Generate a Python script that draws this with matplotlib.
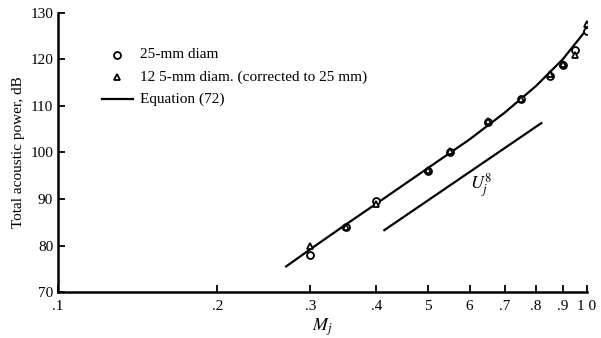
import matplotlib.pyplot as plt

# jet noise data
mach_pts = [0.30, 0.35, 0.40, 0.50, 0.55, 0.65, 0.75, 0.85, 0.90, 0.95, 1.00]
power_25mm = [78.0, 84.0, 89.5, 96.0, 100.0, 106.5, 111.5, 116.5, 118.8, 122.0, 126.0]
power_125mm = [80.0, 84.0, 89.0, 96.3, 100.3, 106.8, 111.5, 116.8, 119.0, 121.0, 127.5]

# equation (72) curve
mach_eq = [0.27, 0.30, 0.35, 0.40, 0.50, 0.60, 0.70, 0.80, 0.90, 1.00]
power_eq = [75.5, 79.2, 84.5, 89.0, 96.6, 102.8, 108.6, 114.2, 120.0, 126.5]

# U_j^8 reference line
mach_u8 = [0.414, 0.82]
power_u8 = [83.3, 106.3]

xticks = [0.1, 0.2, 0.3, 0.4, 0.5, 0.6, 0.7, 0.8, 0.9, 1.0]
xtick_labels = [".1", ".2", ".3", ".4", "5", "6", ".7", ".8", ".9", "1 0"]

plt.rcParams["font.family"] = "Liberation Serif"
plt.rcParams["mathtext.fontset"] = "stix"

fig = plt.figure(figsize=(6.01, 3.38), dpi=100)
ax = fig.add_axes([0.0965, 0.136, 0.88, 0.826])

ax.plot(mach_eq, power_eq, color="black", lw=1.6)
ax.plot(mach_u8, power_u8, color="black", lw=1.6)
ax.plot(mach_pts, power_25mm, "o", ms=5, mfc="white", mec="black", mew=1.3)
ax.plot(mach_pts, power_125mm, "^", ms=5, mfc="white", mec="black", mew=1.3)

ax.set_xscale("log")
ax.set_xlim(0.1, 1.0)
ax.set_ylim(70, 130)
ax.set_xticks(xticks)
ax.set_xticklabels(xtick_labels)
ax.xaxis.set_minor_locator(plt.NullLocator())
ax.set_yticks(range(70, 131, 10))

for s in ["top", "right"]:
    ax.spines[s].set_visible(False)
for s in ["left", "bottom"]:
    ax.spines[s].set_linewidth(1.8)
ax.tick_params(direction="in", length=5, width=1.3, labelsize=11)
ax.tick_params(axis="x", pad=6)

ax.text(0.6, 92, r"$U_j^8$", fontsize=13)
ax.set_xlabel(r"$M_j$", fontsize=13, labelpad=2)
ax.set_ylabel("Total acoustic power, dB", fontsize=11)

# legend drawn by hand to match the figure
ax.plot([0.1294], [121], "o", ms=5, mfc="white", mec="black", mew=1.3)
ax.plot([0.1294], [116.2], "^", ms=5, mfc="white", mec="black", mew=1.3)
ax.plot([0.1212, 0.1388], [111.5, 111.5], color="black", lw=1.6)
ax.text(0.1431, 121, "25-mm diam", fontsize=11, va="center")
ax.text(0.1431, 116.2, "12 5-mm diam. (corrected to 25 mm)", fontsize=11, va="center")
ax.text(0.1431, 111.5, "Equation (72)", fontsize=11, va="center")

fig.savefig("out.png")
